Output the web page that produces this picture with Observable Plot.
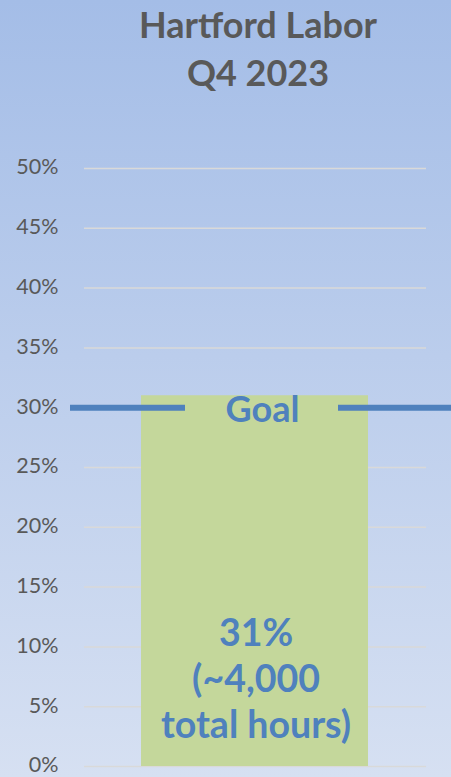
<!DOCTYPE html>
<html><head><meta charset="utf-8">
<script src="https://cdn.jsdelivr.net/npm/d3@7"></script>
<script src="https://cdn.jsdelivr.net/npm/@observablehq/plot@0.6"></script>
<style>
html,body{margin:0;padding:0;}
#chart{width:451px;height:777px;background:linear-gradient(#a4bde7,#d6e0f2);overflow:hidden;font-family:Lato,sans-serif;}
#title{height:110px;box-sizing:border-box;padding-left:65px;padding-top:0;text-align:center;color:#595959;font-weight:bold;font-size:36px;line-height:48px;}
#chart svg{display:block;}
</style>
</head><body>
<div id="chart"><div id="title">Hartford Labor<br>Q4 2023</div></div>
<script>
const categories = ["Hartford Labor Q4 2023"];
const values = [31];
const barLabels = ["31%\n(~4,000\ntotal hours)"];
const goalValues = [30];
const goalLabels = ["Goal"];
const yTicks = [0, 5, 10, 15, 20, 25, 30, 35, 40, 45, 50];

const data = categories.map((c, i) => ({cat: c, value: values[i], label: barLabels[i]}));
const goals = goalValues.map((g, i) => ({value: g, label: goalLabels[i]}));

const chart = Plot.plot({
  width: 451, height: 667,
  marginLeft: 84, marginRight: 25, marginTop: 58, marginBottom: 11,
  style: {background: "transparent", fontFamily: "Lato, sans-serif", overflow: "visible"},
  x: {domain: categories, padding: 0.2, axis: null},
  y: {domain: [0, 50], axis: null},
  marks: [
    Plot.gridY(yTicks, {stroke: "#d9d9d9", strokeOpacity: 1, strokeWidth: 1.5}),
    Plot.axisY(yTicks, {tickSize: 0, tickPadding: 26, tickFormat: d => d + "%", fontSize: 21.5, dy: -1, fill: "#595959", label: null}),
    Plot.barY(data, {x: "cat", y: "value", fill: "#c4d79b"}),
    Plot.ruleY(goals, {y: "value", stroke: "#4f81bd", strokeWidth: 6, insetLeft: -14, insetRight: -25, strokeDasharray: "115 153 130"}),
    Plot.text(goals, {y: "value", text: "label", frameAnchor: "middle", dx: 7, dy: 3, fontSize: 36, fontWeight: "bold", fill: "#4f81bd"}),
    Plot.text(data, {x: "cat", text: "label", frameAnchor: "bottom", lineAnchor: "middle", dy: -89, dx: 1, lineHeight: 1.22, fontSize: 37.5, fontWeight: "bold", fill: "#4f81bd"})
  ]
});
document.getElementById("chart").appendChild(chart);
</script>
</body></html>
